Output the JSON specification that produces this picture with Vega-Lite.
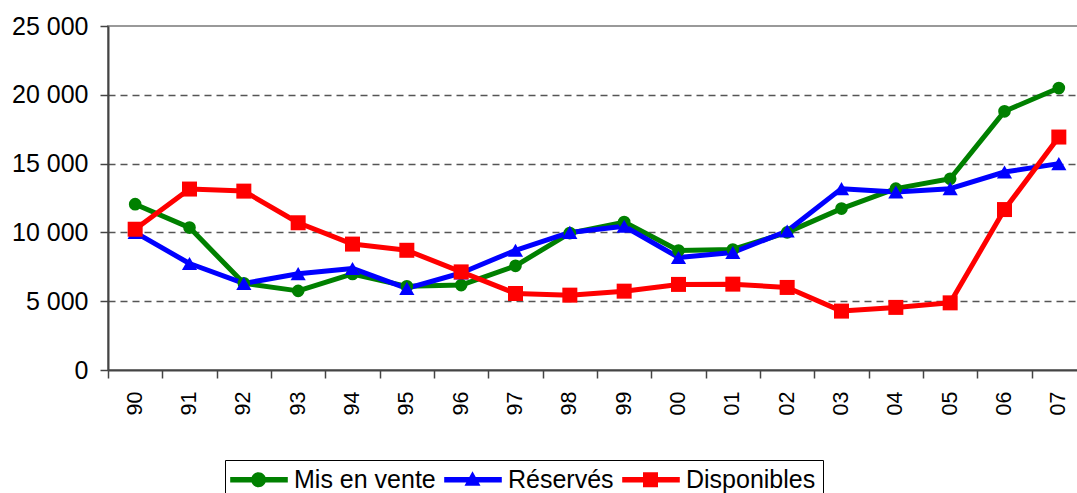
{
  "$schema": "https://vega.github.io/schema/vega-lite/v6.json",
  "autosize": {"type": "none"},
  "padding": {"left": 108, "top": 26, "right": 0, "bottom": 123},
  "width": 978,
  "height": 344,
  "background": "white",
  "config": {
    "font": "Liberation Sans",
    "view": {"stroke": "#999999", "strokeWidth": 2},
    "axis": {"labelFont": "Liberation Sans", "labelColor": "black"},
    "legend": {
      "orient": "none",
      "direction": "horizontal",
      "legendX": 117,
      "legendY": 434,
      "padding": 7,
      "strokeColor": "black",
      "fillColor": "white",
      "labelFontSize": 25,
      "labelFont": "Liberation Sans",
      "labelColor": "black",
      "symbolSize": 100,
      "labelOffset": 37,
      "columnPadding": 8,
      "symbolStrokeWidth": 0,
      "symbolOpacity": 1
    }
  },
  "data": {
    "values": [
      {"year": "90", "series": "Mis en vente", "value": 12050},
      {"year": "91", "series": "Mis en vente", "value": 10350},
      {"year": "92", "series": "Mis en vente", "value": 6300},
      {"year": "93", "series": "Mis en vente", "value": 5750},
      {"year": "94", "series": "Mis en vente", "value": 6980},
      {"year": "95", "series": "Mis en vente", "value": 6080},
      {"year": "96", "series": "Mis en vente", "value": 6170},
      {"year": "97", "series": "Mis en vente", "value": 7570},
      {"year": "98", "series": "Mis en vente", "value": 9950},
      {"year": "99", "series": "Mis en vente", "value": 10750},
      {"year": "00", "series": "Mis en vente", "value": 8680},
      {"year": "01", "series": "Mis en vente", "value": 8760},
      {"year": "02", "series": "Mis en vente", "value": 10000},
      {"year": "03", "series": "Mis en vente", "value": 11730},
      {"year": "04", "series": "Mis en vente", "value": 13180},
      {"year": "05", "series": "Mis en vente", "value": 13900},
      {"year": "06", "series": "Mis en vente", "value": 18800},
      {"year": "07", "series": "Mis en vente", "value": 20490},
      {"year": "90", "series": "Réservés", "value": 10000},
      {"year": "91", "series": "Réservés", "value": 7740},
      {"year": "92", "series": "Réservés", "value": 6290},
      {"year": "93", "series": "Réservés", "value": 7000},
      {"year": "94", "series": "Réservés", "value": 7380},
      {"year": "95", "series": "Réservés", "value": 5930},
      {"year": "96", "series": "Réservés", "value": 7050},
      {"year": "97", "series": "Réservés", "value": 8700},
      {"year": "98", "series": "Réservés", "value": 10000},
      {"year": "99", "series": "Réservés", "value": 10450},
      {"year": "00", "series": "Réservés", "value": 8180},
      {"year": "01", "series": "Réservés", "value": 8540},
      {"year": "02", "series": "Réservés", "value": 10100},
      {"year": "03", "series": "Réservés", "value": 13180},
      {"year": "04", "series": "Réservés", "value": 12940},
      {"year": "05", "series": "Réservés", "value": 13180},
      {"year": "06", "series": "Réservés", "value": 14390},
      {"year": "07", "series": "Réservés", "value": 15000},
      {"year": "90", "series": "Disponibles", "value": 10230},
      {"year": "91", "series": "Disponibles", "value": 13150},
      {"year": "92", "series": "Disponibles", "value": 13000},
      {"year": "93", "series": "Disponibles", "value": 10700},
      {"year": "94", "series": "Disponibles", "value": 9150},
      {"year": "95", "series": "Disponibles", "value": 8700},
      {"year": "96", "series": "Disponibles", "value": 7130},
      {"year": "97", "series": "Disponibles", "value": 5560},
      {"year": "98", "series": "Disponibles", "value": 5440},
      {"year": "99", "series": "Disponibles", "value": 5730},
      {"year": "00", "series": "Disponibles", "value": 6220},
      {"year": "01", "series": "Disponibles", "value": 6240},
      {"year": "02", "series": "Disponibles", "value": 6000},
      {"year": "03", "series": "Disponibles", "value": 4280},
      {"year": "04", "series": "Disponibles", "value": 4550},
      {"year": "05", "series": "Disponibles", "value": 4880},
      {"year": "06", "series": "Disponibles", "value": 11660},
      {"year": "07", "series": "Disponibles", "value": 16930}
    ]
  },
  "encoding": {
    "x": {
      "field": "year",
      "type": "ordinal",
      "sort": null,
      "scale": {"paddingInner": 0, "paddingOuter": 0},
      "axis": {
        "title": null,
        "labelAngle": 270,
        "labelAlign": "right",
        "labelBaseline": "middle",
        "labelFontSize": 21.5,
        "labelPadding": 13,
        "tickBand": "extent",
        "tickSize": 8,
        "tickColor": "#444444",
        "tickWidth": 1.5,
        "domainColor": "#444444",
        "domainWidth": 2,
        "grid": false
      }
    },
    "y": {
      "field": "value",
      "type": "quantitative",
      "scale": {"domain": [0, 25000], "nice": false},
      "axis": {
        "title": null,
        "values": [0, 5000, 10000, 15000, 20000, 25000],
        "labelExpr": "replace(format(datum.value, ','), ',', ' ')",
        "labelFontSize": 25,
        "labelPadding": 12,
        "tickSize": 8,
        "tickColor": "#444444",
        "tickWidth": 1.5,
        "domainColor": "#444444",
        "domainWidth": 2,
        "grid": true,
        "gridColor": "#555555",
        "gridDash": [7, 5],
        "gridWidth": 1.3,
        "gridOpacity": {"condition": {"test": "datum.value === 25000 || datum.value === 0", "value": 0}, "value": 1}
      }
    },
    "color": {
      "field": "series",
      "type": "nominal",
      "sort": null,
      "scale": {
        "domain": ["Mis en vente", "Réservés", "Disponibles"],
        "range": ["#008000", "#0000ff", "#ff0000"]
      },
      "legend": {"title": null}
    }
  },
  "layer": [
    {
      "transform": [{"filter": "datum.value < 0"}],
      "mark": {"type": "point", "filled": true, "opacity": 1},
      "encoding": {
        "shape": {
          "field": "series",
          "type": "nominal",
          "sort": null,
          "scale": {
            "domain": ["Mis en vente", "Réservés", "Disponibles"],
            "range": [
              "M-2.86,-0.55H8.66V0.55H-2.86Z M4.3,0A1.5,1.5 0 1,1 1.3,0A1.5,1.5 0 1,1 4.3,0Z",
              "M-2.86,-0.55H8.66V0.55H-2.86Z M2.8,-1.7L4.4,1.2L1.2,1.2Z",
              "M-2.86,-0.55H8.66V0.55H-2.86Z M1.3,-1.5H4.3V1.5H1.3Z"
            ]
          },
          "legend": {"title": null}
        }
      }
    },
    {
      "mark": {"type": "line", "strokeWidth": 5, "strokeJoin": "round"}
    },
    {
      "transform": [{"filter": "datum.series === 'Mis en vente'"}],
      "mark": {"type": "point", "filled": true, "opacity": 1, "size": 160, "shape": "circle"}
    },
    {
      "transform": [{"filter": "datum.series === 'Réservés'"}],
      "mark": {"type": "point", "filled": true, "opacity": 1, "size": 230, "shape": "triangle-up"}
    },
    {
      "transform": [{"filter": "datum.series === 'Disponibles'"}],
      "mark": {"type": "point", "filled": true, "opacity": 1, "size": 225, "shape": "square"}
    }
  ]
}
